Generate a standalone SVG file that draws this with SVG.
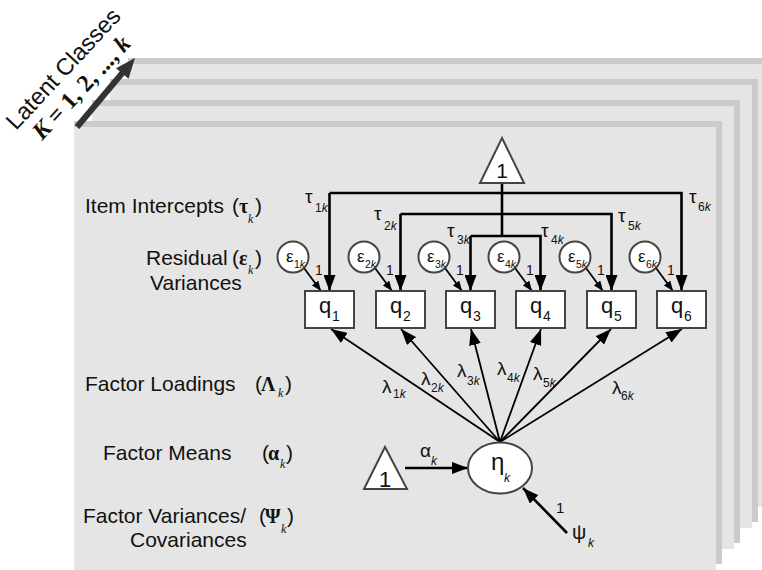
<svg xmlns="http://www.w3.org/2000/svg" width="762" height="570" viewBox="0 0 762 570">
  <defs>
    <style>
      .page { fill: #e5e5e5; }
      .shade { fill: #cbcbcb; }
      .box { fill: #ffffff; stroke: #444444; stroke-width: 2; }
      .wire { fill: none; stroke: #000000; stroke-width: 2.6; }
      .thin { fill: none; stroke: #000000; stroke-width: 1.8; }
      .sans { font-family: "Liberation Sans", Arial, sans-serif; fill: #111111; }
      .serif { font-family: "Liberation Serif", "Times New Roman", serif; fill: #111111; }
      .head { font-size: 21px; }
      .gr { font-size: 19px; }
      .sub { font-size: 12px; }
      .it { font-style: italic; }
      .qn { font-size: 22px; }
      .qs { font-size: 14px; }
      .bgr { font-family: "Liberation Serif", "Times New Roman", serif; font-weight: bold; font-size: 20px; fill: #111111; }
      .bk { font-family: "Liberation Serif", "Times New Roman", serif; font-style: italic; font-size: 12px; fill: #111111; }
    </style>
    <marker id="big" markerUnits="userSpaceOnUse" markerWidth="16" markerHeight="12" refX="16" refY="6" orient="auto">
      <path d="M0,0 L16,6 L0,12 z" fill="#000000"/>
    </marker>
    <marker id="small" markerUnits="userSpaceOnUse" markerWidth="10" markerHeight="8" refX="10" refY="4" orient="auto">
      <path d="M0,0 L10,4 L0,8 z" fill="#000000"/>
    </marker>
  </defs>

  <rect width="762" height="570" fill="#ffffff"/>

  <!-- stack of class pages, back to front -->
  <g id="pages">
    <rect class="shade" x="128" y="58" width="648" height="443"/>
    <rect class="page" x="128" y="64" width="642" height="443"/>
    <rect class="shade" x="110" y="79" width="648" height="443"/>
    <rect class="page" x="110" y="85" width="642" height="443"/>
    <rect class="shade" x="92" y="100" width="648" height="443"/>
    <rect class="page" x="92" y="106" width="642" height="443"/>
    <rect class="shade" x="74" y="121" width="648" height="443"/>
    <rect class="page" x="74" y="127" width="642" height="443"/>
  </g>

  <!-- latent class arrow and caption -->
  <g id="class-arrow">
    <line x1="77" y1="127" x2="124" y2="71" stroke="#333333" stroke-width="6"/>
    <path d="M135,58 L128.5,78.8 L116.0,68.2 z" fill="#333333"/>
    <text class="sans" font-size="23.5" transform="translate(16,131) rotate(-47)">Latent Classes</text>
    <text class="serif" font-size="24" font-weight="bold" transform="translate(42,141) rotate(-47)"><tspan font-style="italic">K</tspan> = 1, 2, ..., <tspan font-style="italic">k</tspan></text>
  </g>

  <!-- row captions -->
  <g id="captions">
    <text class="sans head" x="85" y="213">Item Intercepts</text>
    <text class="sans head" x="232" y="213">(</text>
    <text class="bgr" x="239" y="213">τ</text>
    <text class="bk" x="248" y="223">k</text>
    <text class="sans head" x="255" y="213">)</text>

    <text class="sans head" x="146" y="265">Residual</text>
    <text class="sans head" x="232" y="265">(</text>
    <text class="bgr" x="239" y="265">ε</text>
    <text class="bk" x="248" y="274">k</text>
    <text class="sans head" x="255" y="265">)</text>
    <text class="sans head" x="150" y="290">Variances</text>

    <text class="sans head" x="85" y="391">Factor Loadings</text>
    <text class="sans head" x="255" y="391">(</text>
    <text class="bgr" x="261" y="391">Λ</text>
    <text class="bk" x="278" y="397">k</text>
    <text class="sans head" x="285" y="391">)</text>

    <text class="sans head" x="103" y="460">Factor Means</text>
    <text class="sans head" x="262" y="460">(</text>
    <text class="bgr" x="268" y="460">α</text>
    <text class="bk" x="280" y="468">k</text>
    <text class="sans head" x="286" y="460">)</text>

    <text class="sans head" x="83" y="523">Factor Variances/</text>
    <text class="sans head" x="259" y="523">(</text>
    <text class="bgr" x="265" y="523">Ψ</text>
    <text class="bk" x="281" y="533">k</text>
    <text class="sans head" x="287" y="523">)</text>
    <text class="sans head" x="130" y="547">Covariances</text>
  </g>

  <!-- connectors -->
  <g id="connectors">
    <!-- intercept paths from the constant -->
    <path class="wire" d="M502,183 V236"/>
    <path class="wire" d="M329.5,193 H681.5 V291" marker-end="url(#big)"/>
    <path class="wire" d="M329.5,193 V291" marker-end="url(#big)"/>
    <path class="wire" d="M400.5,214 H611.5 V291" marker-end="url(#big)"/>
    <path class="wire" d="M400.5,214 V291" marker-end="url(#big)"/>
    <path class="wire" d="M470.5,236 H540.5 V291" marker-end="url(#big)"/>
    <path class="wire" d="M470.5,236 V291" marker-end="url(#big)"/>

    <!-- residuals -->
    <line class="thin" x1="304" y1="268" x2="321" y2="291" marker-end="url(#small)"/>
    <line class="thin" x1="375" y1="268" x2="392" y2="291" marker-end="url(#small)"/>
    <line class="thin" x1="445" y1="268" x2="462" y2="291" marker-end="url(#small)"/>
    <line class="thin" x1="515" y1="268" x2="532" y2="291" marker-end="url(#small)"/>
    <line class="thin" x1="586" y1="268" x2="603" y2="291" marker-end="url(#small)"/>
    <line class="thin" x1="656" y1="268" x2="673" y2="291" marker-end="url(#small)"/>

    <!-- factor loadings -->
    <line class="thin" x1="500" y1="442" x2="331" y2="329" marker-end="url(#big)"/>
    <line class="thin" x1="500" y1="442" x2="401" y2="329" marker-end="url(#big)"/>
    <line class="thin" x1="500" y1="442" x2="471" y2="329" marker-end="url(#big)"/>
    <line class="thin" x1="500" y1="442" x2="541" y2="329" marker-end="url(#big)"/>
    <line class="thin" x1="500" y1="442" x2="611" y2="329" marker-end="url(#big)"/>
    <line class="thin" x1="500" y1="442" x2="682" y2="329" marker-end="url(#big)"/>

    <!-- factor mean and variance -->
    <line class="wire" x1="405" y1="468" x2="468" y2="468" marker-end="url(#big)"/>
    <line class="wire" x1="567" y1="533" x2="523" y2="488" marker-end="url(#big)"/>
  </g>

  <!-- connector labels -->
  <g id="path-labels">
    <text class="sans gr" x="305" y="203">τ</text><text class="sans sub" x="315" y="212">1<tspan class="it">k</tspan></text>
    <text class="sans gr" x="374" y="220">τ</text><text class="sans sub" x="384" y="230">2<tspan class="it">k</tspan></text>
    <text class="sans gr" x="447" y="237">τ</text><text class="sans sub" x="457" y="244">3<tspan class="it">k</tspan></text>
    <text class="sans gr" x="541" y="237">τ</text><text class="sans sub" x="551" y="244">4<tspan class="it">k</tspan></text>
    <text class="sans gr" x="618" y="222">τ</text><text class="sans sub" x="628" y="230">5<tspan class="it">k</tspan></text>
    <text class="sans gr" x="689" y="203">τ</text><text class="sans sub" x="698" y="211">6<tspan class="it">k</tspan></text>

    <text class="sans" font-size="14" x="315" y="275">1</text>
    <text class="sans" font-size="14" x="386" y="275">1</text>
    <text class="sans" font-size="14" x="456" y="275">1</text>
    <text class="sans" font-size="14" x="526" y="275">1</text>
    <text class="sans" font-size="14" x="597" y="275">1</text>
    <text class="sans" font-size="14" x="667" y="275">1</text>

    <text class="sans gr" x="382" y="393">λ</text><text class="sans sub" x="393" y="398">1<tspan class="it">k</tspan></text>
    <text class="sans gr" x="421" y="385">λ</text><text class="sans sub" x="431" y="392">2<tspan class="it">k</tspan></text>
    <text class="sans gr" x="457" y="377">λ</text><text class="sans sub" x="467" y="385">3<tspan class="it">k</tspan></text>
    <text class="sans gr" x="497" y="375">λ</text><text class="sans sub" x="507" y="382">4<tspan class="it">k</tspan></text>
    <text class="sans gr" x="533" y="380">λ</text><text class="sans sub" x="543" y="387">5<tspan class="it">k</tspan></text>
    <text class="sans gr" x="612" y="394">λ</text><text class="sans sub" x="621" y="400">6<tspan class="it">k</tspan></text>

    <text class="sans gr" x="420" y="457">α</text><text class="sans sub it" x="431" y="465">k</text>
    <text class="sans" font-size="15" x="556" y="513">1</text>
    <text class="sans" font-size="20" x="572" y="539">ψ</text><text class="sans sub it" x="588" y="547">k</text>
  </g>

  <!-- constant for intercepts -->
  <g id="const-top">
    <polygon class="box" points="502,138 524,183 480,183"/>
    <text class="sans" font-size="21" x="502" y="178" text-anchor="middle">1</text>
  </g>

  <!-- observed items -->
  <g id="q1"><rect class="box" x="305" y="291" width="49" height="37"/><text class="sans qn" x="319" y="313">q</text><text class="sans qs" x="332" y="321">1</text></g>
  <g id="q2"><rect class="box" x="376" y="291" width="49" height="37"/><text class="sans qn" x="390" y="313">q</text><text class="sans qs" x="403" y="321">2</text></g>
  <g id="q3"><rect class="box" x="446" y="291" width="49" height="37"/><text class="sans qn" x="460" y="313">q</text><text class="sans qs" x="473" y="321">3</text></g>
  <g id="q4"><rect class="box" x="516" y="291" width="49" height="37"/><text class="sans qn" x="530" y="313">q</text><text class="sans qs" x="543" y="321">4</text></g>
  <g id="q5"><rect class="box" x="587" y="291" width="49" height="37"/><text class="sans qn" x="601" y="313">q</text><text class="sans qs" x="614" y="321">5</text></g>
  <g id="q6"><rect class="box" x="657" y="291" width="49" height="37"/><text class="sans qn" x="671" y="313">q</text><text class="sans qs" x="684" y="321">6</text></g>

  <!-- residual terms -->
  <g id="e1"><circle class="box" cx="293" cy="257" r="15.5"/><text class="sans" font-size="17" x="286" y="262">ε</text><text class="sans" font-size="10.5" x="294" y="268">1<tspan class="it">k</tspan></text></g>
  <g id="e2"><circle class="box" cx="364" cy="257" r="15.5"/><text class="sans" font-size="17" x="357" y="262">ε</text><text class="sans" font-size="10.5" x="365" y="268">2<tspan class="it">k</tspan></text></g>
  <g id="e3"><circle class="box" cx="434" cy="257" r="15.5"/><text class="sans" font-size="17" x="427" y="262">ε</text><text class="sans" font-size="10.5" x="435" y="268">3<tspan class="it">k</tspan></text></g>
  <g id="e4"><circle class="box" cx="504" cy="257" r="15.5"/><text class="sans" font-size="17" x="497" y="262">ε</text><text class="sans" font-size="10.5" x="505" y="268">4<tspan class="it">k</tspan></text></g>
  <g id="e5"><circle class="box" cx="575" cy="257" r="15.5"/><text class="sans" font-size="17" x="568" y="262">ε</text><text class="sans" font-size="10.5" x="576" y="268">5<tspan class="it">k</tspan></text></g>
  <g id="e6"><circle class="box" cx="645" cy="257" r="15.5"/><text class="sans" font-size="17" x="638" y="262">ε</text><text class="sans" font-size="10.5" x="646" y="268">6<tspan class="it">k</tspan></text></g>

  <!-- latent factor -->
  <g id="eta">
    <ellipse class="box" cx="500" cy="468" rx="32" ry="25.5"/>
    <text class="sans" font-size="24" x="491" y="470">η</text>
    <text class="sans sub it" x="504" y="482">k</text>
  </g>

  <!-- constant for factor mean -->
  <g id="const-mean">
    <polygon class="box" points="385,447 407,489 364,489"/>
    <text class="sans" font-size="22" x="385" y="487" text-anchor="middle">1</text>
  </g>
</svg>
